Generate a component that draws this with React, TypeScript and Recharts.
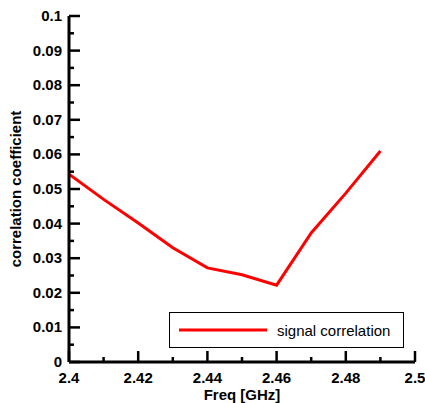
import React from 'react';
import { LineChart, Line, XAxis, YAxis, Legend, Label } from 'recharts';

const freqs = [2.4, 2.41, 2.42, 2.43, 2.44, 2.45, 2.46, 2.47, 2.48, 2.49];
const correlation = [0.0543, 0.047, 0.0402, 0.033, 0.0272, 0.0252, 0.0222, 0.0373, 0.0488, 0.061];

const xTicks = [2.4, 2.41, 2.42, 2.43, 2.44, 2.45, 2.46, 2.47, 2.48, 2.49, 2.5];
const xLabels = ['2.4', '', '2.42', '', '2.44', '', '2.46', '', '2.48', '', '2.5'];
const yTicks = [
  0, 0.005, 0.01, 0.015, 0.02, 0.025, 0.03, 0.035, 0.04, 0.045, 0.05,
  0.055, 0.06, 0.065, 0.07, 0.075, 0.08, 0.085, 0.09, 0.095, 0.1,
];
const yLabels = [
  '0', '', '0.01', '', '0.02', '', '0.03', '', '0.04', '', '0.05',
  '', '0.06', '', '0.07', '', '0.08', '', '0.09', '', '0.1',
];

const data = freqs.map((f, i) => ({ freq: f, corr: correlation[i] }));

const FONT = '"Liberation Sans", Arial, sans-serif';

const XTick = (props: any) => {
  const { x, y, index } = props;
  const label = xLabels[index];
  const len = label ? 11 : 5;
  return (
    <g>
      <line x1={x} y1={y} x2={x} y2={y - len} stroke="#000" strokeWidth={2.5} />
      {label && (
        <text x={x} y={y + 21} textAnchor="middle" fontFamily={FONT} fontWeight="bold" fontSize={15} fill="#000">
          {label}
        </text>
      )}
    </g>
  );
};

const YTick = (props: any) => {
  const { x, y, index } = props;
  const label = yLabels[index];
  const len = label ? 11 : 5;
  return (
    <g>
      <line x1={x} y1={y} x2={x + len} y2={y} stroke="#000" strokeWidth={2.5} />
      {label && (
        <text x={x - 7} y={y + 5} textAnchor="end" fontFamily={FONT} fontWeight="bold" fontSize={15} fill="#000">
          {label}
        </text>
      )}
    </g>
  );
};

const LegendBox = (props: any) => {
  const item = props.payload?.[0];
  return (
    <div
      style={{
        width: 235,
        height: 36,
        boxSizing: 'border-box',
        border: '1px solid #000',
        background: '#fff',
        display: 'flex',
        alignItems: 'center',
        fontFamily: FONT,
        fontSize: 15,
        color: '#000',
      }}
    >
      <svg width={88} height={4} style={{ marginLeft: 9 }}>
        <line x1={0} y1={2} x2={88} y2={2} stroke={item?.color} strokeWidth={3} />
      </svg>
      <span style={{ marginLeft: 10 }}>{item?.value}</span>
    </div>
  );
};

export default function App() {
  return (
    <div style={{ position: 'absolute', left: 0, top: 0 }}>
      <LineChart width={425} height={403} data={data} margin={{ top: 16, right: 10, left: 0, bottom: 0 }}>
        <XAxis
          dataKey="freq"
          type="number"
          domain={[2.4, 2.5]}
          ticks={xTicks}
          interval={0}
          height={41}
          tickSize={0}
          tickMargin={0}
          tickLine={false}
          tick={<XTick />}
          axisLine={{ stroke: '#000', strokeWidth: 3 }}
          allowDataOverflow
        >
          <Label
            value="Freq [GHz]"
            position="insideBottom"
            offset={3}
            style={{ fontFamily: FONT, fontWeight: 'bold', fontSize: 15, fill: '#000' }}
          />
        </XAxis>
        <YAxis
          type="number"
          domain={[0, 0.1]}
          ticks={yTicks}
          interval={0}
          width={69}
          tickSize={0}
          tickMargin={0}
          tickLine={false}
          tick={<YTick />}
          axisLine={{ stroke: '#000', strokeWidth: 3 }}
          allowDataOverflow
        >
          <Label
            value="correlation coefficient"
            position="insideLeft"
            angle={-90}
            offset={16}
            style={{ textAnchor: 'middle', fontFamily: FONT, fontWeight: 'bold', fontSize: 15, fill: '#000' }}
          />
        </YAxis>
        <Legend
          layout="horizontal"
          verticalAlign="middle"
          align="center"
          content={<LegendBox />}
          wrapperStyle={{ position: 'absolute', left: 169, top: 312, width: 235, height: 36 }}
        />
        <Line
          type="linear"
          dataKey="corr"
          name="signal correlation"
          stroke="#ff0000"
          strokeWidth={3}
          dot={false}
          activeDot={false}
          isAnimationActive={false}
        />
      </LineChart>
    </div>
  );
}
